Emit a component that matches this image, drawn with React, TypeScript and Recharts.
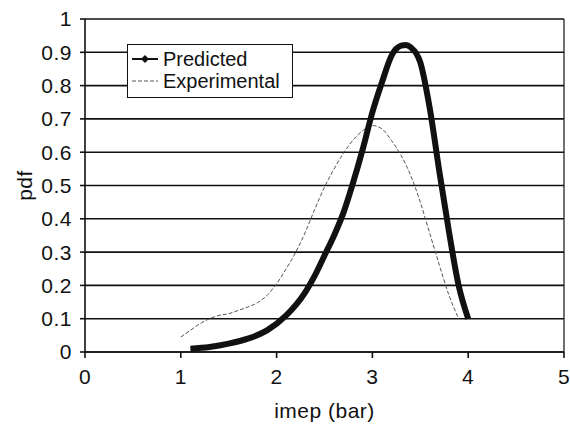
import React from "react";
import {
  LineChart,
  Line,
  XAxis,
  YAxis,
  CartesianGrid,
  ReferenceLine,
  Label,
} from "recharts";

// imep (bar) and pdf values
const predictedX = [1.1, 1.3, 1.5, 1.7, 1.9, 2.1, 2.3, 2.4, 2.5, 2.6, 2.7, 2.8, 2.9, 3.0, 3.1, 3.2, 3.3, 3.35, 3.4, 3.5, 3.6, 3.7, 3.8, 3.9, 4.0];
const predictedY = [0.01, 0.015, 0.025, 0.04, 0.065, 0.11, 0.18, 0.23, 0.29, 0.35, 0.42, 0.51, 0.61, 0.72, 0.81, 0.89, 0.92, 0.922, 0.915, 0.87, 0.73, 0.54, 0.36, 0.2, 0.1];

const experimentalX = [1.0, 1.1, 1.2, 1.3, 1.4, 1.5, 1.6, 1.7, 1.8, 1.9, 2.0, 2.1, 2.2, 2.3, 2.4, 2.5, 2.6, 2.7, 2.8, 2.9, 3.0, 3.1, 3.2, 3.3, 3.4, 3.5, 3.6, 3.7, 3.8, 3.9];
const experimentalY = [0.045, 0.065, 0.085, 0.1, 0.11, 0.115, 0.125, 0.135, 0.148, 0.17, 0.205, 0.25, 0.3, 0.36, 0.43, 0.495, 0.55, 0.598, 0.637, 0.665, 0.68, 0.67, 0.635, 0.59, 0.53, 0.45, 0.355, 0.26, 0.17, 0.1];

const xTicks = [0, 1, 2, 3, 4, 5];
const yTicks = [0, 0.1, 0.2, 0.3, 0.4, 0.5, 0.6, 0.7, 0.8, 0.9, 1];

const predicted = predictedX.map((x, i) => ({ x, y: predictedY[i] }));
const experimental = experimentalX.map((x, i) => ({ x, y: experimentalY[i] }));

const font = "'Liberation Sans', Arial, sans-serif";
const ink = "#111";
const textStyle = { fontFamily: font, fontSize: 21, fill: ink, letterSpacing: 0.5 };

function LegendBox() {
  return (
    <div
      style={{
        position: "absolute",
        left: 127,
        top: 44,
        border: `1.5px solid ${ink}`,
        background: "#fff",
        width: 166,
        height: 54,
        boxSizing: "border-box",
        fontFamily: font,
        fontSize: 20,
        color: ink,
        padding: "3px 0 0 4px",
        lineHeight: "22px",
      }}
    >
      <div style={{ display: "flex", alignItems: "center" }}>
        <svg width={26} height={10} style={{ marginRight: 5 }}>
          <line x1={0} y1={5} x2={26} y2={5} stroke={ink} strokeWidth={2} />
          <polygon points="13,1 17,5 13,9 9,5" fill={ink} />
        </svg>
        Predicted
      </div>
      <div style={{ display: "flex", alignItems: "center" }}>
        <svg width={26} height={10} style={{ marginRight: 5 }}>
          <line x1={0} y1={5} x2={26} y2={5} stroke="#555" strokeWidth={1} strokeDasharray="4 2" />
        </svg>
        Experimental
      </div>
    </div>
  );
}

export default function App() {
  return (
    <div style={{ position: "absolute", left: 0, top: 0, width: 570, height: 425, background: "#fff" }}>
      <LineChart width={570} height={425} margin={{ top: 19, right: 6, left: 0, bottom: 0 }}>
        <CartesianGrid vertical={false} stroke={ink} strokeWidth={1.6} />
        <XAxis
          type="number"
          dataKey="x"
          domain={[0, 5]}
          ticks={xTicks}
          height={73}
          tickSize={6}
          tickMargin={11}
          stroke={ink}
          strokeWidth={1.6}
          tick={textStyle}
          allowDuplicatedCategory={false}
        >
          <Label value="imep (bar)" position="insideBottom" offset={7} style={textStyle} />
        </XAxis>
        <YAxis
          type="number"
          domain={[0, 1]}
          ticks={yTicks}
          width={85}
          tickSize={5}
          tickMargin={8}
          stroke={ink}
          strokeWidth={1.6}
          tick={textStyle}
        >
          <Label
            content={({ viewBox }: any) => {
              const cy = viewBox.y + viewBox.height / 2;
              return (
                <text
                  x={24}
                  y={cy}
                  transform={`rotate(-90 24 ${cy})`}
                  textAnchor="middle"
                  dominantBaseline="central"
                  style={textStyle}
                >
                  pdf
                </text>
              );
            }}
          />
        </YAxis>
        <ReferenceLine x={5} stroke={ink} strokeWidth={1.2} />
        <Line
          data={experimental}
          dataKey="y"
          name="Experimental"
          type="monotone"
          stroke="#555"
          strokeWidth={1}
          strokeDasharray="4 2"
          dot={false}
          isAnimationActive={false}
        />
        <Line
          data={predicted}
          dataKey="y"
          name="Predicted"
          type="monotone"
          stroke={ink}
          strokeWidth={6}
          dot={false}
          isAnimationActive={false}
        />
      </LineChart>
      <LegendBox />
    </div>
  );
}
